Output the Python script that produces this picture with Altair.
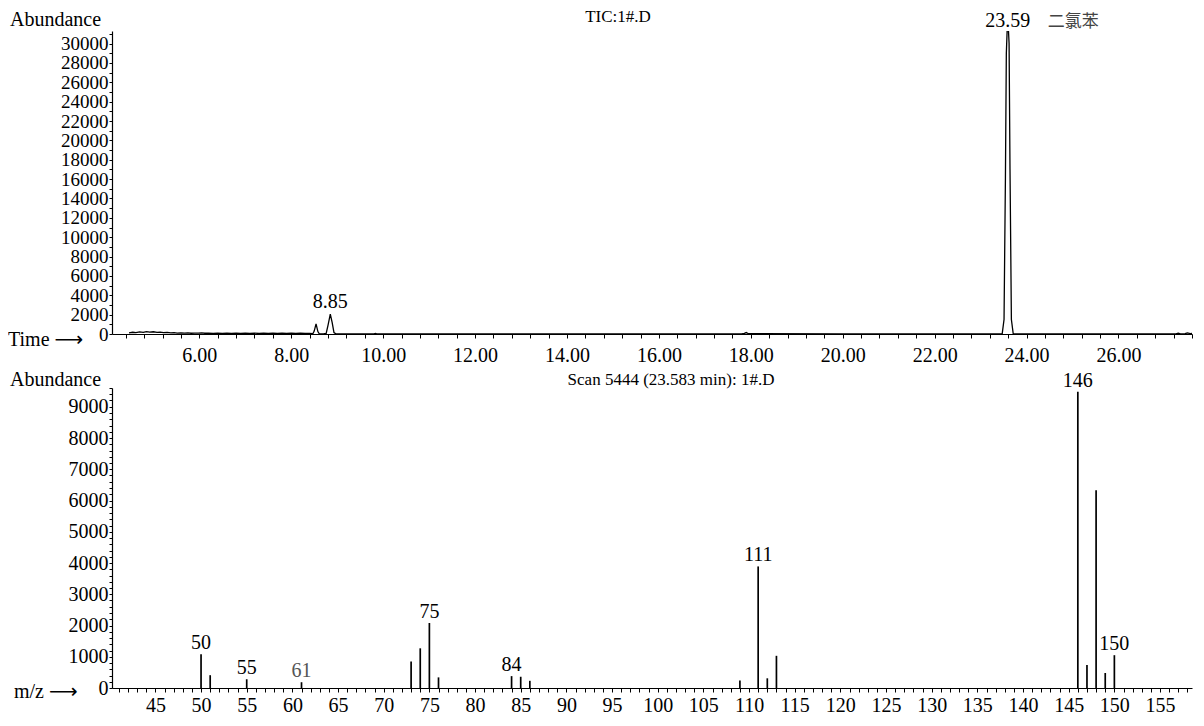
import altair as alt
import pandas as pd

# ---------------- data: total ion chromatogram ----------------
tic_time = [4.47, 4.55, 4.62, 4.70, 4.78, 4.85, 4.92, 5.00, 5.08, 5.15, 5.22, 5.30, 5.38,
            5.45, 5.52, 5.60, 5.68, 5.75, 5.82, 5.90, 5.98, 6.05, 6.12, 6.20, 6.30, 6.40,
            6.50, 6.60, 6.70, 6.80, 6.90, 7.00, 7.10, 7.20, 7.30, 7.40, 7.50, 7.60, 7.70,
            7.80, 7.90, 8.00, 8.10, 8.20, 8.30, 8.40, 8.47, 8.50, 8.54, 8.58, 8.61, 8.70,
            8.76, 8.80, 8.85, 8.89, 8.93, 8.97, 9.20, 9.80, 9.83, 9.86, 12.0, 15.0, 17.80,
            17.86, 17.90, 17.95, 20.0, 23.0, 23.47, 23.51, 23.54, 23.56, 23.59, 23.62,
            23.64, 23.67, 23.71, 25.0, 27.00, 27.25, 27.30, 27.35, 27.45, 27.50, 27.56,
            27.62]
tic_abund = [120, 180, 140, 210, 160, 240, 190, 230, 170, 200, 150, 170, 120,
             140, 100, 120, 90, 110, 80, 100, 90, 110, 80, 100, 70, 90,
             60, 80, 70, 90, 60, 80, 70, 90, 60, 80, 70, 90, 60,
             80, 70, 90, 60, 80, 70, 60, 30, 300, 1050, 250, 20, 10,
             60, 900, 2050, 1200, 150, 20, 10, 10, 60, 10, 10, 10, 10,
             60, 150, 30, 10, 10, 20, 1500, 16000, 29000, 33000, 30000,
             17000, 1500, 20, 10, 10, 20, 90, 20, 30, 110, 40,
             60]

tic_label_time = [8.85]
tic_label_abund = [2050]
tic_main_peak = [23.59]
tic_main_text = ["23.59"]
compound_name = ["二氯苯"]
top_title = ["TIC:1#.D"]

# ---------------- data: mass spectrum ----------------
mz = [50, 51, 55, 61, 73, 74, 75, 76, 84, 85, 86, 109, 111, 112, 113,
      146, 147, 148, 149, 150]
mz_abund = [1080, 410, 280, 185, 845, 1270, 2080, 340, 380, 360, 230, 240, 3890, 310, 1030,
            9480, 740, 6330, 480, 1050]
mz_labelled = [50, 55, 61, 75, 84, 111, 146, 150]
bottom_title = ["Scan 5444 (23.583 min): 1#.D"]

# tick label sets
top_x_ticks = [round(4.4 + 0.4 * i, 1) for i in range(59)]
top_y_ticks = list(range(0, 31001, 1000))
bot_x_ticks = list(range(41, 159))
bot_y_ticks = list(range(0, 9601, 200))

FONT = "Liberation Serif"
CJK = "Noto Sans CJK SC"
YFS = 19
XFS = 20

W = 1080
H_TOP = 303
H_BOT = 300

# ---------------- top panel ----------------
tic_df = pd.DataFrame({"time": tic_time, "abund": tic_abund})
xs_top = alt.Scale(domain=[4.10, 27.6], nice=False, zero=False)
ys_top = alt.Scale(domain=[0, 31300], nice=False)

x_top = alt.X("time:Q", scale=xs_top, title=None,
              axis=alt.Axis(values=top_x_ticks, tickCount=500,
                            labelExpr="abs(datum.value/2 - round(datum.value/2)) < 0.01 ? format(datum.value, '.2f') : ''",
                            tickSize=4, labelPadding=7, grid=False, labelFlush=False,
                            labelOverlap=False, labelFontSize=XFS))
y_top = alt.Y("abund:Q", scale=ys_top, title=None,
              axis=alt.Axis(values=top_y_ticks, tickCount=500,
                            labelExpr="datum.value % 2000 == 0 ? format(datum.value, 'd') : ''",
                            tickSize=3, labelPadding=1, grid=False, labelOverlap=False,
                            labelFlush=False, labelFontSize=YFS))

tic_line = alt.Chart(tic_df).mark_line(color="black", strokeWidth=1.3, clip=True).encode(
    x=x_top, y=y_top)

lab885 = alt.Chart(pd.DataFrame({"time": tic_label_time, "abund": tic_label_abund,
                                 "t": ["8.85"]})).mark_text(
    font=FONT, fontSize=XFS, baseline="bottom", dy=-2, color="black").encode(
    x=alt.X("time:Q", scale=xs_top), y=alt.Y("abund:Q", scale=ys_top), text="t:N")

lab2359 = alt.Chart(pd.DataFrame({"time": tic_main_peak, "t": tic_main_text})).mark_text(
    font=FONT, fontSize=XFS, baseline="middle", color="black").encode(
    x=alt.X("time:Q", scale=xs_top), y=alt.value(-10), text="t:N")

lab_name = alt.Chart(pd.DataFrame({"time": tic_main_peak, "t": compound_name})).mark_text(
    font=CJK, fontSize=17, baseline="middle", align="left", dx=40, color="#444444").encode(
    x=alt.X("time:Q", scale=xs_top), y=alt.value(-9), text="t:N")

top_ttl = alt.Chart(pd.DataFrame({"t": top_title})).mark_text(
    font=FONT, fontSize=17, baseline="middle", color="black").encode(
    x=alt.value(506), y=alt.value(-14), text="t:N")

top_abund = alt.Chart(pd.DataFrame({"t": ["Abundance"]})).mark_text(
    font=FONT, fontSize=20, baseline="middle", align="left", color="black").encode(
    x=alt.value(-102), y=alt.value(-11), text="t:N")

top_time = alt.Chart(pd.DataFrame({"t": ["Time ⟶"]})).mark_text(
    font=FONT + ", DejaVu Sans", fontSize=20, baseline="middle", align="left", color="black").encode(
    x=alt.value(-104), y=alt.value(H_TOP + 6), text="t:N")

top = alt.layer(tic_line, lab885, lab2359, lab_name, top_ttl, top_abund, top_time).properties(
    width=W, height=H_TOP)

# ---------------- bottom panel ----------------
ms_df = pd.DataFrame({"mz": mz, "abund": mz_abund})
lab_df = ms_df[ms_df["mz"].isin(mz_labelled)]
xs_bot = alt.Scale(domain=[40.25, 158.5], nice=False, zero=False)
ys_bot = alt.Scale(domain=[0, 9600], nice=False)

x_bot = alt.X("mz:Q", scale=xs_bot, title=None,
              axis=alt.Axis(values=bot_x_ticks, tickCount=500,
                            labelExpr="datum.value % 5 == 0 ? format(datum.value, 'd') : ''",
                            tickSize=4, labelPadding=3, grid=False, labelFlush=False,
                            labelOverlap=False, labelFontSize=XFS))
y_bot = alt.Y("abund:Q", scale=ys_bot, title=None,
              axis=alt.Axis(values=bot_y_ticks, tickCount=500,
                            labelExpr="datum.value % 1000 == 0 ? format(datum.value, 'd') : ''",
                            tickSize=3, labelPadding=1, grid=False, labelOverlap=False,
                            labelFlush=False, labelFontSize=XFS))

bars = alt.Chart(ms_df).mark_rule(color="black", strokeWidth=1.7).encode(
    x=x_bot, y=y_bot, y2=alt.datum(0))

bar_labels = alt.Chart(lab_df).mark_text(
    font=FONT, fontSize=XFS, baseline="bottom", dy=-1).encode(
    x=alt.X("mz:Q", scale=xs_bot), y=alt.Y("abund:Q", scale=ys_bot),
    text=alt.Text("mz:Q", format="d"),
    color=alt.condition("datum.mz == 61", alt.value("#555555"), alt.value("black")))

bot_ttl = alt.Chart(pd.DataFrame({"t": bottom_title})).mark_text(
    font=FONT, fontSize=17, baseline="middle", color="black").encode(
    x=alt.value(559), y=alt.value(-8), text="t:N")

bot_abund = alt.Chart(pd.DataFrame({"t": ["Abundance"]})).mark_text(
    font=FONT, fontSize=20, baseline="middle", align="left", color="black").encode(
    x=alt.value(-102), y=alt.value(-8), text="t:N")

bot_mz = alt.Chart(pd.DataFrame({"t": ["m/z ⟶"]})).mark_text(
    font=FONT + ", DejaVu Sans", fontSize=20, baseline="middle", align="left", color="black").encode(
    x=alt.value(-98), y=alt.value(H_BOT + 4), text="t:N")

bottom = alt.layer(bars, bar_labels, bot_ttl, bot_abund, bot_mz).properties(
    width=W, height=H_BOT)

chart = alt.vconcat(top, bottom, spacing=5).properties(padding=0).configure_view(
    stroke=None).configure_axis(
    domainColor="black", tickColor="black", labelColor="black", labelFont=FONT,
    domainWidth=1.2, tickWidth=1)

chart.save("out.html", embed_options={"renderer": "svg", "actions": False})
